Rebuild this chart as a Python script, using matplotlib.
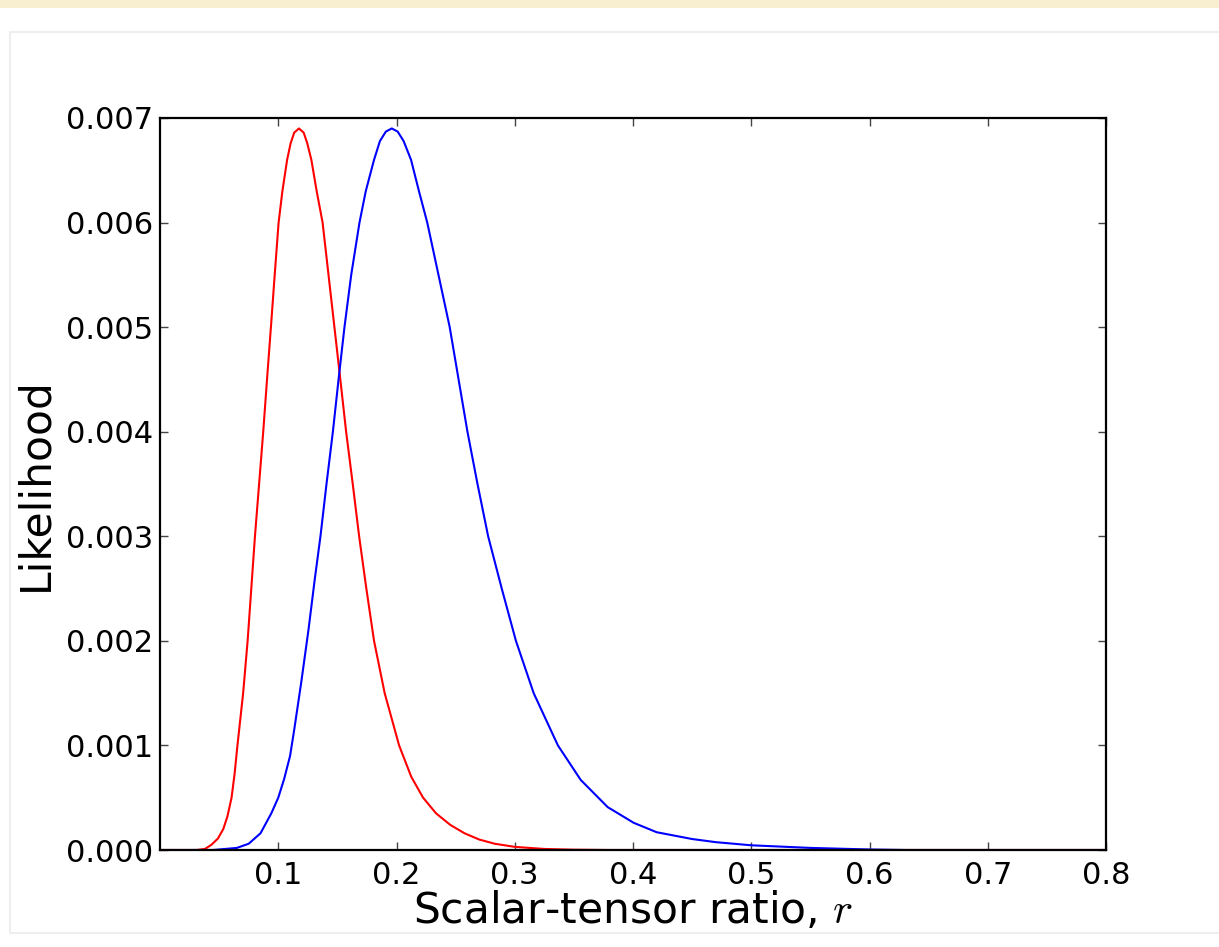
import numpy as np
import matplotlib.pyplot as plt
from matplotlib.patches import Rectangle

plt.rcParams['mathtext.fontset'] = 'cm'

# values
red_r = [0.0, 0.031, 0.038, 0.0435, 0.049, 0.0535, 0.057, 0.0605, 0.063, 0.0655,
         0.0703, 0.0741, 0.0772, 0.0803, 0.0838, 0.0873, 0.0905, 0.0938, 0.097, 0.1003,
         0.1035, 0.1075, 0.1105, 0.1135, 0.1175, 0.1215, 0.1245, 0.128, 0.1325, 0.1375,
         0.1425, 0.1475, 0.1525, 0.1574, 0.1630, 0.1684, 0.1745, 0.181, 0.190, 0.2022,
         0.2125, 0.2225, 0.2335, 0.2455, 0.2575, 0.270, 0.283, 0.300, 0.325, 0.350,
         0.380, 0.8]
red_like = [0.0, 0.0, 0.00001, 0.00005, 0.00011, 0.0002, 0.00032, 0.0005, 0.00072, 0.001,
            0.0015, 0.002, 0.0025, 0.003, 0.0035, 0.004, 0.0045, 0.005, 0.0055, 0.006,
            0.0063, 0.0066, 0.00676, 0.00686, 0.0069, 0.00686, 0.00676, 0.0066, 0.0063, 0.006,
            0.0055, 0.005, 0.0045, 0.004, 0.0035, 0.003, 0.0025, 0.002, 0.0015, 0.001,
            0.0007, 0.0005, 0.00035, 0.00024, 0.00016, 0.0001, 0.00006, 0.00003, 0.00001, 0.000003,
            0.0, 0.0]

blue_r = [0.0, 0.045, 0.055, 0.065, 0.075, 0.085, 0.0941, 0.100, 0.105, 0.110,
          0.1135, 0.1194, 0.1255, 0.131, 0.1357, 0.1408, 0.1462, 0.151, 0.156, 0.1617,
          0.1687, 0.174, 0.181, 0.186, 0.191, 0.196, 0.201, 0.206, 0.2123, 0.219,
          0.226, 0.2355, 0.245, 0.2525, 0.260, 0.2685, 0.2775, 0.289, 0.301, 0.316,
          0.3365, 0.3558, 0.3786, 0.4006, 0.420, 0.450, 0.470, 0.500, 0.550, 0.600,
          0.630, 0.8]
blue_like = [0.0, 0.0, 0.00001, 0.00002, 0.00006, 0.00016, 0.00035, 0.0005, 0.00068, 0.0009,
             0.00115, 0.0016, 0.0021, 0.0026, 0.003, 0.0035, 0.004, 0.0045, 0.005, 0.0055,
             0.006, 0.0063, 0.0066, 0.00678, 0.00687, 0.0069, 0.00687, 0.00678, 0.0066, 0.0063,
             0.006, 0.0055, 0.005, 0.0045, 0.004, 0.0035, 0.003, 0.0025, 0.002, 0.0015,
             0.001, 0.00067, 0.00041, 0.00026, 0.00017, 0.000105, 0.000075, 0.000045, 0.00002, 0.000005,
             0.0, 0.0]

x_ticks = [0.1, 0.2, 0.3, 0.4, 0.5, 0.6, 0.7, 0.8]
y_ticks = [0.0, 0.001, 0.002, 0.003, 0.004, 0.005, 0.006, 0.007]

fig = plt.figure(figsize=(12.19, 9.47), dpi=100)

# page decoration around the figure
fig.patches.append(Rectangle((0, 1 - 8 / 947), 1, 8 / 947, transform=fig.transFigure,
                             facecolor='#f8eed0', edgecolor='none', zorder=0))
fig.patches.append(Rectangle((10 / 1219, 1 - 933 / 947), 1.0, (933 - 32) / 947,
                             transform=fig.transFigure, facecolor='none',
                             edgecolor='#eeeeee', linewidth=1.5, zorder=0))

ax = fig.add_axes([160 / 1219, 1 - 850 / 947, (1106 - 160) / 1219, (850 - 118) / 947])

ax.plot(red_r, red_like, color='red', linewidth=1.5)
ax.plot(blue_r, blue_like, color='blue', linewidth=1.5)

ax.set_xlim(0, 0.8)
ax.set_ylim(0, 0.007)
ax.set_xticks(x_ticks)
ax.set_xticklabels([f"{v:.1f}" for v in x_ticks])
ax.set_yticks(y_ticks)
ax.set_yticklabels([f"{v:.3f}" for v in y_ticks])

ax.tick_params(direction='in', length=6, width=1, color='#444444', labelsize=22,
               top=True, right=True, pad=5)
ax.tick_params(axis='x', pad=8)
for s in ax.spines.values():
    s.set_linewidth(1.6)

ax.set_xlabel("Scalar-tensor ratio, $r$", fontsize=30.5, labelpad=0)
ax.set_ylabel("Likelihood", fontsize=30.5, labelpad=7)

plt.savefig("out.png", dpi=100)
